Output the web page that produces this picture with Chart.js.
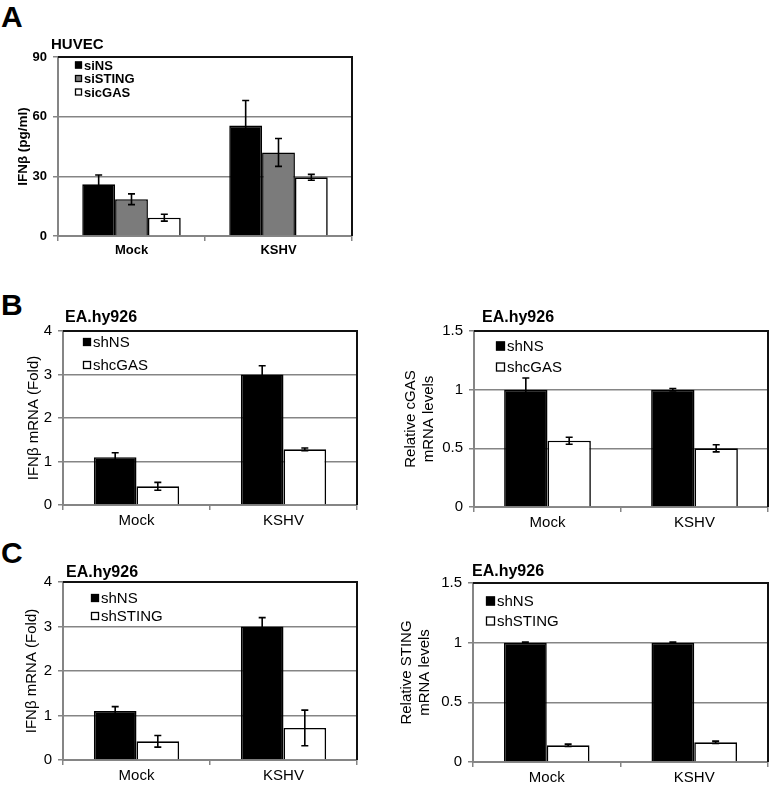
<!DOCTYPE html>
<html>
<head>
<meta charset="utf-8">
<title>IFNβ panels</title>
<script src="https://cdn.jsdelivr.net/npm/chart.js@4.4.1/dist/chart.umd.min.js"></script>
<style>
    html, body { margin: 0; padding: 0; background: #fff; }
    #page { position: relative; width: 771px; height: 786px; overflow: hidden; }
    #page canvas { position: absolute; }
    .panel-letter {
        position: absolute;
        left: 1px;
        font: bold 30px 'Liberation Sans', Arial, sans-serif;
        line-height: 30px;
        color: #000;
    }
</style>
</head>
<body>
<div id="page">
    <div class="panel-letter" style="top:2px">A</div>
    <div class="panel-letter" style="top:290px">B</div>
    <div class="panel-letter" style="top:538px">C</div>
</div>
<script>
// ---- data ----
const categories = ['Mock', 'KSHV'];

// A: HUVEC, IFNβ (pg/ml)
const huvecSiNS = [26, 55.5];
const huvecSiNSErr = [4.7, 12.6];
const huvecSiSTING = [18.5, 42];
const huvecSiSTINGErr = [2.7, 7];
const huvecSicGAS = [9.2, 29.5];
const huvecSicGASErr = [1.7, 1.5];
const ticksA = [0, 30, 60, 90];

// B left: EA.hy926, IFNβ mRNA fold
const bIfnShNS = [1.1, 3.0];
const bIfnShNSErr = [0.1, 0.2];
const bIfnShcGAS = [0.43, 1.28];
const bIfnShcGASErr = [0.09, 0.03];
const ticksFold = [0, 1, 2, 3, 4];

// B right: relative cGAS mRNA
const bCgasShNS = [1.0, 1.0];
const bCgasShNSErr = [0.1, 0.01];
const bCgasShcGAS = [0.565, 0.5];
const bCgasShcGASErr = [0.03, 0.03];
const ticksRel = [0, 0.5, 1, 1.5];

// C left: EA.hy926, IFNβ mRNA fold
const cIfnShNS = [1.1, 3.0];
const cIfnShNSErr = [0.1, 0.2];
const cIfnShSTING = [0.42, 0.72];
const cIfnShSTINGErr = [0.13, 0.4];

// C right: relative STING mRNA
const cStingShNS = [1.0, 1.0];
const cStingShNSErr = [0.005, 0.005];
const cStingShSTING = [0.14, 0.165];
const cStingShSTINGErr = [0.01, 0.01];

const FONT = "'Liberation Sans', Arial, sans-serif";
const GRID = '#858585';

Chart.defaults.font.family = FONT;
Chart.defaults.color = '#000';

// error bars, legend inside the plot, black top/right frame, panel title
const panelDecor = {
    id: 'panelDecor',
    afterDatasetsDraw(chart, args, opts) {
        const ctx = chart.ctx;
        const area = chart.chartArea;
        const yScale = chart.scales.y;

        // frame
        ctx.save();
        ctx.strokeStyle = '#111';
        ctx.lineWidth = 2;
        ctx.beginPath();
        ctx.moveTo(area.left, area.top);
        ctx.lineTo(area.right, area.top);
        ctx.lineTo(area.right, area.bottom);
        ctx.stroke();

        // error bars
        ctx.lineWidth = 1.6;
        ctx.strokeStyle = '#000';
        chart.data.datasets.forEach(function(ds, i) {
            const meta = chart.getDatasetMeta(i);
            meta.data.forEach(function(bar, j) {
                const v = ds.data[j];
                const e = ds.errors[j];
                const yHi = yScale.getPixelForValue(v + e);
                const yLo = yScale.getPixelForValue(v - e);
                ctx.beginPath();
                ctx.moveTo(bar.x, yHi);
                ctx.lineTo(bar.x, yLo);
                ctx.moveTo(bar.x - 3.5, yHi);
                ctx.lineTo(bar.x + 3.5, yHi);
                ctx.moveTo(bar.x - 3.5, yLo);
                ctx.lineTo(bar.x + 3.5, yLo);
                ctx.stroke();
            });
        });

        // legend
        ctx.font = opts.legendFont;
        ctx.textBaseline = 'middle';
        ctx.textAlign = 'left';
        chart.data.datasets.forEach(function(ds, i) {
            const cy = area.top + opts.legendY + i * opts.legendGap;
            const bx = area.left + opts.legendX;
            const s = opts.box;
            ctx.fillStyle = ds.backgroundColor;
            ctx.fillRect(bx, cy - s / 2, s, s);
            ctx.lineWidth = 1.3;
            ctx.strokeStyle = '#000';
            ctx.strokeRect(bx + 0.5, cy - s / 2 + 0.5, s - 1, s - 1);
            ctx.fillStyle = '#000';
            ctx.fillText(ds.label, bx + s + 2, cy + 1);
        });

        // title
        ctx.font = opts.titleFont;
        ctx.fillText(opts.title, area.left + opts.titleDx, area.top + opts.titleDy);
        ctx.restore();
    }
};

function makePanel(cfg) {
    const canvas = document.createElement('canvas');
    canvas.width = cfg.box.w;
    canvas.height = cfg.box.h;
    canvas.style.left = cfg.box.x + 'px';
    canvas.style.top = cfg.box.y + 'px';
    document.getElementById('page').appendChild(canvas);

    const yWidth = cfg.plot.l - cfg.box.x;
    const xHeight = cfg.box.y + cfg.box.h - cfg.plot.b;
    const ticks = cfg.ticks;

    return new Chart(canvas, {
        type: 'bar',
        data: {
            labels: categories,
            datasets: cfg.series.map(function(s) {
                return {
                    label: s.label,
                    data: s.values,
                    errors: s.errors,
                    backgroundColor: s.color,
                    borderColor: '#000',
                    borderWidth: 1.6,
                    categoryPercentage: cfg.groupWidth,
                    barPercentage: 1
                };
            })
        },
        options: {
            responsive: false,
            animation: false,
            events: [],
            layout: {
                padding: {
                    left: 0,
                    top: cfg.plot.t - cfg.box.y,
                    right: cfg.box.x + cfg.box.w - cfg.plot.r,
                    bottom: 0
                }
            },
            plugins: {
                legend: { display: false },
                tooltip: { enabled: false },
                panelDecor: cfg.decor
            },
            scales: {
                x: {
                    grid: {
                        offset: true,
                        drawOnChartArea: false,
                        tickLength: 5,
                        color: GRID,
                        lineWidth: 1.5
                    },
                    border: { color: GRID, width: 2 },
                    ticks: { font: cfg.tickFont, padding: 2, color: '#000' },
                    afterFit: function(scale) { scale.height = xHeight; }
                },
                y: {
                    min: ticks[0],
                    max: ticks[ticks.length - 1],
                    ticks: {
                        stepSize: ticks[1] - ticks[0],
                        font: cfg.tickFont,
                        padding: 6,
                        color: '#000',
                        callback: function(value) { return String(+value.toFixed(2)); }
                    },
                    grid: { color: GRID, lineWidth: 1.5, tickLength: 5 },
                    border: { color: GRID, width: 2 },
                    title: {
                        display: true,
                        text: cfg.yTitle,
                        font: cfg.yTitleFont,
                        color: '#000',
                        padding: { top: cfg.yTitlePad, bottom: 0 }
                    },
                    afterFit: function(scale) { scale.width = yWidth; }
                }
            }
        },
        plugins: [panelDecor]
    });
}

const boldTick = { size: 13, weight: 'bold' };
const plainTick = { size: 15 };

// Panel A
makePanel({
    box: { x: 0, y: 30, w: 362, h: 240 },
    plot: { l: 58, t: 57, r: 352, b: 236 },
    ticks: ticksA,
    groupWidth: 0.67,
    tickFont: boldTick,
    yTitle: 'IFNβ (pg/ml)',
    yTitleFont: { size: 13.5, weight: 'bold' },
    yTitlePad: 15,
    series: [
        { label: 'siNS', values: huvecSiNS, errors: huvecSiNSErr, color: '#000000' },
        { label: 'siSTING', values: huvecSiSTING, errors: huvecSiSTINGErr, color: '#7b7b7b' },
        { label: 'sicGAS', values: huvecSicGAS, errors: huvecSicGASErr, color: '#ffffff' }
    ],
    decor: {
        title: 'HUVEC', titleFont: 'bold 15px ' + FONT, titleDx: -7, titleDy: -12,
        legendFont: 'bold 13px ' + FONT, legendX: 17, legendY: 8, legendGap: 13.5, box: 7
    }
});

// Panel B left
makePanel({
    box: { x: 0, y: 300, w: 365, h: 230 },
    plot: { l: 63, t: 331, r: 357, b: 505 },
    ticks: ticksFold,
    groupWidth: 0.58,
    tickFont: plainTick,
    yTitle: 'IFNβ mRNA (Fold)',
    yTitleFont: { size: 15 },
    yTitlePad: 25,
    series: [
        { label: 'shNS', values: bIfnShNS, errors: bIfnShNSErr, color: '#000000' },
        { label: 'shcGAS', values: bIfnShcGAS, errors: bIfnShcGASErr, color: '#ffffff' }
    ],
    decor: {
        title: 'EA.hy926', titleFont: 'bold 16px ' + FONT, titleDx: 2, titleDy: -13,
        legendFont: '15px ' + FONT, legendX: 20, legendY: 11, legendGap: 23, box: 8
    }
});

// Panel B right
makePanel({
    box: { x: 380, y: 300, w: 391, h: 230 },
    plot: { l: 474, t: 331, r: 768, b: 507 },
    ticks: ticksRel,
    groupWidth: 0.59,
    tickFont: plainTick,
    yTitle: ['Relative cGAS', 'mRNA levels'],
    yTitleFont: { size: 15 },
    yTitlePad: 22,
    series: [
        { label: 'shNS', values: bCgasShNS, errors: bCgasShNSErr, color: '#000000' },
        { label: 'shcGAS', values: bCgasShcGAS, errors: bCgasShcGASErr, color: '#ffffff' }
    ],
    decor: {
        title: 'EA.hy926', titleFont: 'bold 16px ' + FONT, titleDx: 8, titleDy: -13,
        legendFont: '15px ' + FONT, legendX: 22, legendY: 15, legendGap: 21, box: 9
    }
});

// Panel C left
makePanel({
    box: { x: 0, y: 555, w: 365, h: 231 },
    plot: { l: 63, t: 582, r: 357, b: 760 },
    ticks: ticksFold,
    groupWidth: 0.58,
    tickFont: plainTick,
    yTitle: 'IFNβ mRNA (Fold)',
    yTitleFont: { size: 15 },
    yTitlePad: 23,
    series: [
        { label: 'shNS', values: cIfnShNS, errors: cIfnShNSErr, color: '#000000' },
        { label: 'shSTING', values: cIfnShSTING, errors: cIfnShSTINGErr, color: '#ffffff' }
    ],
    decor: {
        title: 'EA.hy926', titleFont: 'bold 16px ' + FONT, titleDx: 3, titleDy: -9,
        legendFont: '15px ' + FONT, legendX: 28, legendY: 16, legendGap: 18, box: 8
    }
});

// Panel C right
makePanel({
    box: { x: 380, y: 555, w: 391, h: 231 },
    plot: { l: 473, t: 583, r: 768, b: 762 },
    ticks: ticksRel,
    groupWidth: 0.58,
    tickFont: plainTick,
    yTitle: ['Relative STING', 'mRNA levels'],
    yTitleFont: { size: 15 },
    yTitlePad: 18,
    series: [
        { label: 'shNS', values: cStingShNS, errors: cStingShNSErr, color: '#000000' },
        { label: 'shSTING', values: cStingShSTING, errors: cStingShSTINGErr, color: '#ffffff' }
    ],
    decor: {
        title: 'EA.hy926', titleFont: 'bold 16px ' + FONT, titleDx: -1, titleDy: -11,
        legendFont: '15px ' + FONT, legendX: 13, legendY: 18, legendGap: 20, box: 9
    }
});
</script>
</body>
</html>
